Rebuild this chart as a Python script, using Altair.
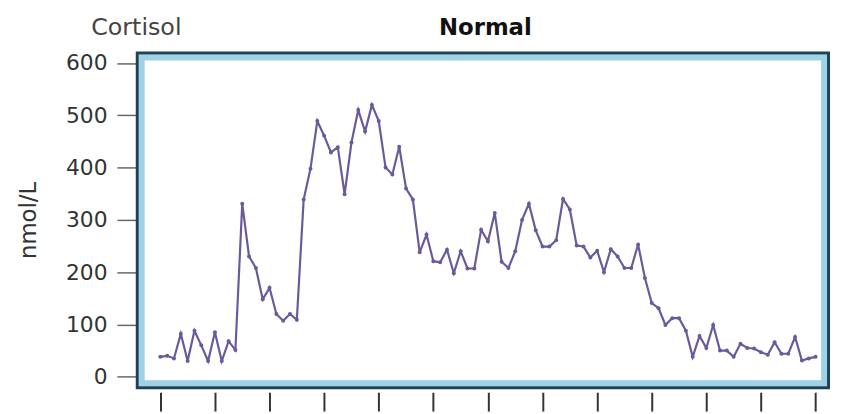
import altair as alt
import pandas as pd

# Cortisol (nmol/L), sampled every 15 minutes over 24 h
cortisol = [
    38, 40, 35, 82, 30, 88, 60, 30, 85, 30, 68, 51,
    331, 230, 208, 148, 170, 120, 107, 120, 109,
    339, 398, 489, 461, 429, 439, 349, 448, 510, 469, 520, 489,
    400, 387, 440, 360, 339, 238, 272, 221, 219, 243, 198, 240,
    207, 207, 281, 259, 313, 220, 208, 240, 300, 331, 280, 249,
    249, 261, 340, 320, 251, 249, 228, 241, 200, 244, 230, 208,
    208, 253, 189, 141, 131, 99, 112, 112, 88, 38, 78, 55,
    99, 50, 50, 38, 63, 55, 54, 47, 42, 66, 44, 44, 76, 31, 35, 38,
]
hours = [i * 0.25 for i in range(len(cortisol))]
y_ticks = [0, 100, 200, 300, 400, 500, 600]
x_ticks = [0, 2, 4, 6, 8, 10, 12, 14, 16, 18, 20, 22, 24]

df = pd.DataFrame({"hour": hours, "cortisol": cortisol})
one = pd.DataFrame({"k": [0]})

W, H = 701, 341
PURPLE = "#6a5a9c"
DARK = "#1c4456"
LIGHT = "#9fd2e6"
FONT = "DejaVu Sans"

x_scale = alt.Scale(domain=[-0.9, 24.53], nice=False, zero=False)
y_scale = alt.Scale(domain=[-24, 622], nice=False, zero=False)

frame_light = alt.Chart(one).mark_rect(
    fillOpacity=0, stroke=LIGHT, strokeWidth=6
).encode(x=alt.value(6), x2=alt.value(W - 6), y=alt.value(6), y2=alt.value(H - 6))

frame_dark = alt.Chart(one).mark_rect(
    fillOpacity=0, stroke=DARK, strokeWidth=3
).encode(x=alt.value(1.5), x2=alt.value(W - 1.5), y=alt.value(1.5), y2=alt.value(H - 1.5))

base = alt.Chart(df)
line = base.mark_line(color=PURPLE, strokeWidth=2.2).encode(
    x=alt.X(
        "hour:Q", scale=x_scale,
        axis=alt.Axis(values=x_ticks, labels=False, domain=False, grid=False,
                      tickSize=19, tickWidth=2, tickColor="#333333", offset=3, title=None),
    ),
    y=alt.Y(
        "cortisol:Q", scale=y_scale,
        axis=alt.Axis(values=y_ticks, domain=False, grid=False, tickSize=19,
                      tickColor="#666666", tickWidth=1.5, labelFontSize=22,
                      labelColor="#333333", labelPadding=10, labelFont=FONT, title=None),
    ),
)
points = base.mark_circle(color=PURPLE, size=16, opacity=1).encode(
    x=alt.X("hour:Q", scale=x_scale), y=alt.Y("cortisol:Q", scale=y_scale)
)

t_cort = alt.Chart(one).mark_text(
    text="Cortisol", align="left", baseline="alphabetic", fontSize=24, font=FONT, color="#444444"
).encode(x=alt.value(-45), y=alt.value(-17))

t_norm = alt.Chart(one).mark_text(
    text="Normal", align="center", baseline="alphabetic", fontSize=23, font=FONT,
    fontWeight="bold", color="#111111"
).encode(x=alt.value(353), y=alt.value(-17))

t_unit = alt.Chart(one).mark_text(
    text="nmol/L", align="center", baseline="middle", fontSize=23, font=FONT,
    angle=270, color="#333333"
).encode(x=alt.value(-108), y=alt.value(170.5))

chart = alt.layer(frame_light, frame_dark, line, points, t_cort, t_norm, t_unit).properties(
    width=W, height=H,
    padding={"left": 129, "top": 42, "right": 3, "bottom": 22},
    autosize=alt.AutoSizeParams(type="none"),
    background="white",
).configure_view(strokeOpacity=0)

chart.save("out.html", embed_options={"renderer": "svg", "actions": False})
